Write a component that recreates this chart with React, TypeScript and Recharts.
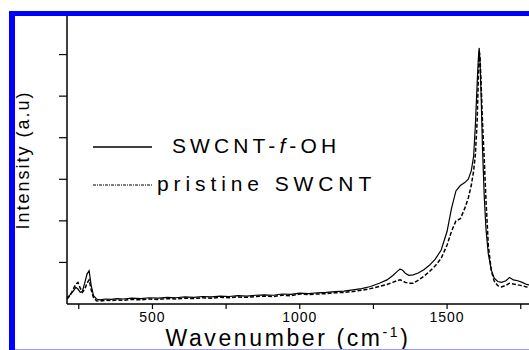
import { LineChart, Line, XAxis, YAxis, Label } from "recharts";

// Raman shift grid (cm-1) shared by both spectra
const wavenumber = [
  210, 220, 230, 240, 247, 255, 262, 270, 278, 285, 292, 300, 310, 322, 340, 360, 380, 400, 430, 460,
  490, 520, 550, 580, 610, 640, 670, 700, 730, 760, 790, 820, 850, 880, 910, 940, 970, 1000, 1030, 1060,
  1090, 1120, 1150, 1180, 1210, 1240, 1270, 1296, 1315, 1330, 1340, 1348, 1358, 1370, 1385, 1400, 1420,
  1440, 1460, 1480, 1500, 1515, 1530, 1545, 1560, 1572, 1582, 1590, 1596, 1602, 1606, 1609, 1612, 1616,
  1620, 1626, 1632, 1640, 1650, 1660, 1672, 1685, 1700, 1712, 1725, 1740, 1755, 1770, 1778,
];

const functionalized = [
  0.15, 0.22, 0.3, 0.4, 0.36, 0.28, 0.3, 0.5, 0.72, 0.8, 0.45, 0.2, 0.12, 0.1, 0.12, 0.11, 0.13, 0.12, 0.14, 0.13,
  0.15, 0.14, 0.16, 0.15, 0.17, 0.16, 0.18, 0.17, 0.19, 0.18, 0.2, 0.19, 0.21, 0.22, 0.21, 0.24, 0.23, 0.26, 0.25, 0.27,
  0.28, 0.3, 0.31, 0.34, 0.37, 0.42, 0.5, 0.58, 0.68, 0.78, 0.84, 0.82, 0.74, 0.69, 0.7, 0.74, 0.82,
  0.93, 1.08, 1.3, 1.75, 2.3, 2.72, 2.85, 2.92, 3.0, 3.2, 3.55, 4.3, 5.3, 5.9, 6.16, 5.8, 4.9,
  3.8, 2.6, 1.8, 1.2, 0.82, 0.62, 0.54, 0.52, 0.56, 0.64, 0.58, 0.56, 0.52, 0.47, 0.46,
];

const pristine = [
  0.12, 0.2, 0.34, 0.48, 0.52, 0.38, 0.28, 0.35, 0.5, 0.58, 0.35, 0.15, 0.08, 0.07, 0.09, 0.08, 0.1, 0.09, 0.11, 0.1,
  0.12, 0.11, 0.13, 0.12, 0.14, 0.13, 0.15, 0.14, 0.16, 0.15, 0.17, 0.16, 0.18, 0.19, 0.18, 0.21, 0.2, 0.24, 0.23, 0.24,
  0.25, 0.27, 0.28, 0.3, 0.33, 0.37, 0.42, 0.47, 0.52, 0.56, 0.58, 0.56, 0.52, 0.5, 0.5, 0.56, 0.66,
  0.78, 0.92, 1.1, 1.42, 1.75, 2.0, 2.05, 2.3, 2.55, 2.85, 3.2, 3.6, 4.4, 5.4, 6.1, 5.9, 5.2,
  4.4, 3.5, 2.5, 1.4, 0.8, 0.55, 0.44, 0.41, 0.45, 0.5, 0.48, 0.46, 0.44, 0.41, 0.4,
];

const xTicks = [250, 500, 750, 1000, 1250, 1500, 1750];
const yTicks = [1, 2, 3, 4, 5, 6];

const FONT = "'Liberation Sans', Arial, sans-serif";

const data = wavenumber.map((w, i) => ({ w, foh: functionalized[i], pristine: pristine[i] }));

// key drawn as an overlay so it takes no room from the plot
function SpectraLegend() {
  return (
    <svg
      width={300}
      height={70}
      style={{ position: "absolute", left: 90, top: 135, overflow: "visible" }}
    >
      <line x1={3} y1={12} x2={62} y2={12} stroke="#000" strokeWidth={1.3} />
      <text x={82} y={18} fontFamily={FONT} fontSize={21} letterSpacing={4.1} fill="#000">
        SWCNT-<tspan fontStyle="italic">f</tspan>-OH
      </text>
      <line x1={3} y1={50} x2={63} y2={50} stroke="#000" strokeWidth={1} strokeDasharray="3 1 1 1" />
      <text x={67} y={56} fontFamily={FONT} fontSize={21} letterSpacing={4.9} fill="#000">
        pristine SWCNT
      </text>
    </svg>
  );
}

export default function App() {
  return (
    <div style={{ position: "absolute", left: 0, top: 0, width: 529, height: 350, background: "#fff", overflow: "hidden", fontFamily: FONT }}>
      <LineChart width={529} height={350} data={data} margin={{ top: 13, right: 0, bottom: 0, left: 0 }}>
        <XAxis
          dataKey="w"
          type="number"
          domain={[210, 1778]}
          allowDataOverflow
          ticks={xTicks}
          tickFormatter={(v: number) => (v % 500 === 0 ? String(v) : "")}
          height={46}
          tickSize={5}
          axisLine={{ stroke: "#000", strokeWidth: 1.5 }}
          tickLine={{ stroke: "#000", strokeWidth: 1.2 }}
          tick={{ fill: "#000", fontSize: 14, fontFamily: FONT, letterSpacing: 1, dy: 1 }}
        >
          <Label
            content={() => (
              <text x={288} y={346} textAnchor="middle" fontFamily={FONT} fontSize={23} letterSpacing={2.6} fill="#000">
                Wavenumber (cm
                <tspan dy={-9} fontSize={14}>-1</tspan>
                <tspan dy={9}>)</tspan>
              </text>
            )}
          />
        </XAxis>
        <YAxis
          type="number"
          domain={[0, 7]}
          ticks={yTicks}
          width={67}
          tickSize={8}
          tickFormatter={() => ""}
          axisLine={{ stroke: "#000", strokeWidth: 1.5 }}
          tickLine={{ stroke: "#000", strokeWidth: 1.2 }}
        >
          <Label
            content={() => (
              <text
                x={29}
                y={160}
                transform="rotate(-90 29 160)"
                textAnchor="middle"
                fontFamily={FONT}
                fontSize={18}
                letterSpacing={2}
                fill="#000"
              >
                Intensity (a.u)
              </text>
            )}
          />
        </YAxis>
        <Line
          type="linear"
          dataKey="foh"
          stroke="#000"
          strokeWidth={1.2}
          dot={false}
          isAnimationActive={false}
        />
        <Line
          type="linear"
          dataKey="pristine"
          stroke="#000"
          strokeWidth={1.5}
          strokeDasharray="4 2"
          dot={false}
          isAnimationActive={false}
        />
      </LineChart>
      <SpectraLegend />
      {/* blue frame */}
      <div style={{ position: "absolute", left: 9, top: 11, width: 520, height: 5, background: "#0000ff" }} />
      <div style={{ position: "absolute", left: 9, top: 11, width: 6, height: 339, background: "#0000ff" }} />
      <div style={{ position: "absolute", left: 15, top: 349, width: 514, height: 1, background: "#9a9aff" }} />
    </div>
  );
}
